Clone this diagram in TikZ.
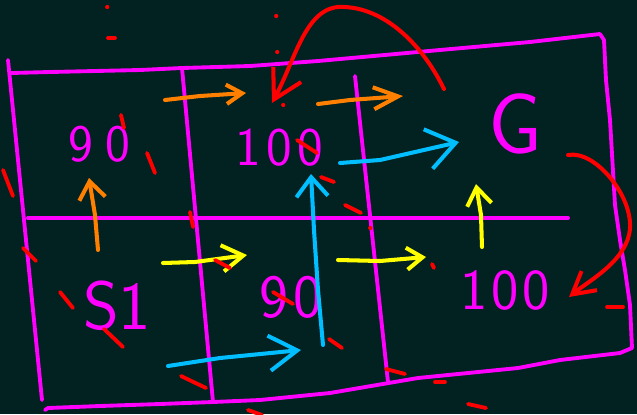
\documentclass[tikz,border=0pt]{standalone}
\usepackage{tikz}
\usetikzlibrary{arrows.meta}
\definecolor{board-bg}{RGB}{2,33,33}
\definecolor{pen-magenta}{RGB}{255,0,255}
\definecolor{pen-orange}{RGB}{255,128,0}
\definecolor{pen-cyan}{RGB}{0,190,255}
\definecolor{pen-yellow}{RGB}{255,255,0}
\definecolor{pen-red}{RGB}{255,0,0}
\tikzset{
  grid-stroke/.style={draw=pen-magenta, line width=2.2pt, line cap=round, line join=round},
  cell-value/.style={text=pen-magenta, inner sep=0pt, font=\sffamily\fontsize{#1}{#1}\selectfont},
  pen-arrow/.style 2 args={line width=2.3pt, line cap=round, line join=round,
    -{Straight Barb[length=#1, width=#2]}},
  pen-scribble/.style={draw=pen-red, line width=2.2pt, line cap=round}
}
\begin{document}
\begin{tikzpicture}[x=0.02cm, y=-0.02cm]
  \fill[board-bg] (0,0) rectangle (637,414);
  \useasboundingbox (0,0) rectangle (637,414);
  % board outline and cell borders
  \draw[grid-stroke] (8,60) -- (42,400);
  \draw[grid-stroke] (11,73) -- (50,72) -- (140,70) -- (182,68) -- (250,66) -- (318,61) -- (440,50) -- (530,42) -- (600,34);
  \draw[grid-stroke] (600,34) -- (604,40) -- (606,80) -- (610,120) -- (615,205) -- (620,240) -- (625,270) -- (630,305) -- (632,348)
    -- (620,353) -- (560,360) -- (518,368) -- (418,378) -- (330,393) -- (260,400) -- (213,402) -- (160,404) -- (100,406) -- (48,408) -- (45,410);
  \draw[grid-stroke] (182,68) -- (213,402);
  \draw[grid-stroke] (355,76) -- (388,382);
  \draw[grid-stroke] (28,218) -- (568,218);
  % cell values
  \node[cell-value=30] (top-left) at (99,144) {9\kern7pt 0};
  \node[cell-value=31] (top-mid) at (279,148) {1\kern3pt 0\kern3pt 0};
  \node[cell-value=49] (goal) at (515,124) {G};
  \node[cell-value=39] (start) at (117,306) {S1};
  \node[cell-value=35] (bottom-mid) at (291,297) {9\kern3pt 0};
  \node[cell-value=33] (bottom-right) at (505,290) {1\kern2pt 0\kern2pt 0};
  % moves
  \draw[pen-arrow={9pt}{11pt}, draw=pen-orange] (165,100) -- (200,96) -- (246,93);
  \draw[pen-arrow={14pt}{12.5pt}, draw=pen-orange] (318,104) -- (350,100) -- (403,96);
  \draw[pen-arrow={10pt}{15pt}, draw=pen-orange] (98,250) -- (95,215) -- (89,178);
  \draw[pen-arrow={16pt}{23pt}, draw=pen-cyan] (340,163) -- (380,160) -- (459,142);
  \draw[pen-arrow={11pt}{18pt}, draw=pen-cyan] (323,345) -- (318,290) -- (314,230) -- (311,174);
  \draw[pen-arrow={16pt}{20pt}, draw=pen-cyan] (168,366) -- (220,358) -- (301,350);
  \draw[pen-arrow={12pt}{15pt}, draw=pen-yellow] (163,263) -- (195,262) -- (247,255);
  \draw[pen-arrow={9pt}{12.5pt}, draw=pen-yellow] (338,260) -- (380,261) -- (426,257);
  \draw[pen-arrow={10pt}{14pt}, draw=pen-yellow] (482,247) -- (481,215) -- (476,184);
  \draw[pen-arrow={16pt}{18pt}, draw=pen-red] (444,89) .. controls (420,40) and (380,5) .. (338,7) .. controls (305,10) and (295,60) .. (272,103);
  \draw[pen-arrow={12.5pt}{14pt}, draw=pen-red] (568,155) .. controls (595,150) and (632,195) .. (630,228) .. controls (628,260) and (590,280) .. (569,297);
  % stray marks
  \foreach \xa/\ya/\xb/\yb in {108/38/115/38, 121/115/124/128, 147/153/155/173, 3/170/13/196, 297/140/317/153,
      321/177/334/182, 345/205/361/213, 23/248/36/261, 190/212/193/227, 60/292/73/308, 104/329/123/347,
      215/260/230/268, 273/292/293/304, 181/376/206/388, 248/410/262/415, 329/339/342/348, 432/264/434/268,
      386/369/405/374, 435/382/445/382, 468/404/486/408, 607/307/623/307}
    \draw[pen-scribble] (\xa,\ya) -- (\xb,\yb);
  \foreach \x/\y in {107/7, 276/16, 277/52, 283/105, 370/228}
    \draw[pen-scribble] (\x,\y) -- (\x+0.5,\y);
\end{tikzpicture}
\end{document}
